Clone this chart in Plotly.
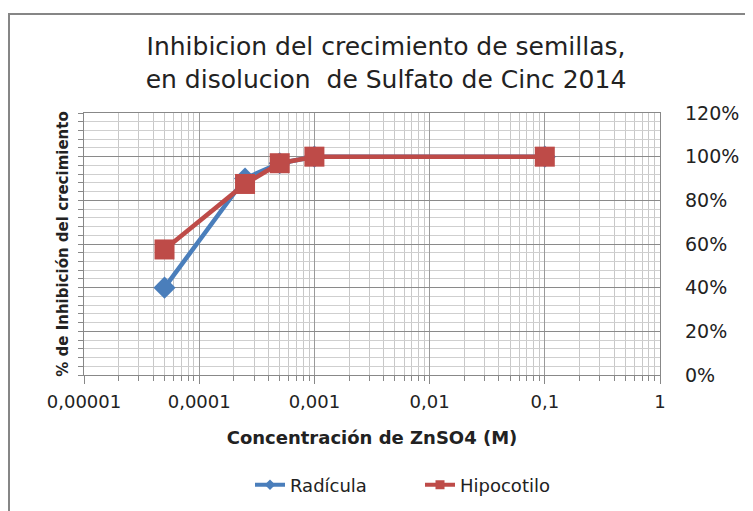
import plotly.graph_objects as go

# Data
concentracion = [0.00005, 0.00025, 0.0005, 0.001, 0.1]
radicula = [0.40, 0.90, 0.97, 1.00, 1.00]
hipocotilo = [0.575, 0.875, 0.97, 1.00, 1.00]

x_tickvals = [0.00001, 0.0001, 0.001, 0.01, 0.1, 1]
x_ticktext = ["0,00001", "0,0001", "0,001", "0,01", "0,1", "1"]
y_tickvals = [0, 0.2, 0.4, 0.6, 0.8, 1.0, 1.2]
y_ticktext = ["0%", "20%", "40%", "60%", "80%", "100%", "120%"]

FONT = "DejaVu Sans"
BLUE = "#4A7EBB"
RED = "#BE4B48"

# page offset compensation (body margin)
OFF = 8
L, T, PW, PH = 84 - OFF, 113 - OFF, 576, 262

fig = go.Figure()
fig.add_trace(go.Scatter(
    x=concentracion, y=radicula, name="Radícula", mode="lines+markers",
    line=dict(color=BLUE, width=4.5), showlegend=False,
    marker=dict(symbol="diamond", size=17, color=BLUE),
))
fig.add_trace(go.Scatter(
    x=concentracion, y=hipocotilo, name="Hipocotilo", mode="lines+markers",
    line=dict(color=RED, width=4.5), showlegend=False,
    marker=dict(symbol="square", size=20, color=RED),
))
# legend entries with small markers (as in the reference legend)
fig.add_trace(go.Scatter(
    x=[None], y=[None], name="Radícula", mode="lines+markers",
    line=dict(color=BLUE, width=4), marker=dict(symbol="diamond", size=8, color=BLUE),
))
fig.add_trace(go.Scatter(
    x=[None], y=[None], name="Hipocotilo", mode="lines+markers",
    line=dict(color=RED, width=4), marker=dict(symbol="square", size=9, color=RED),
))
# invisible trace to activate right axis labels
fig.add_trace(go.Scatter(x=[None], y=[None], yaxis="y2", showlegend=False, hoverinfo="skip"))

fig.update_layout(
    width=753, height=511,
    margin=dict(l=L, r=753 - L - PW, t=T, b=511 - T - PH),
    paper_bgcolor="white", plot_bgcolor="white",
    font=dict(family=FONT, color="#222", size=17),
    title=dict(
        text="Inhibicion del crecimiento de semillas,<br>en disolucion  de Sulfato de Cinc 2014",
        x=(386 - OFF) / 753, xanchor="center", xref="container",
        y=1 - (55 - OFF) / 511, yanchor="middle", yref="container",
        font=dict(family=FONT, size=25, color="#222"),
    ),
    xaxis=dict(
        type="log", range=[-5, 0], automargin=False,
        tickvals=x_tickvals, ticktext=x_ticktext,
        showgrid=True, gridcolor="#9a9a9a", gridwidth=1,
        ticks="outside", ticklen=8, tickcolor="#888",
        showline=True, linecolor="#888", linewidth=1, mirror=True,
        minor=dict(dtick="D1", showgrid=True, gridcolor="#c8c8c8",
                   ticks="outside", ticklen=5, tickcolor="#888"),
        title=dict(text="<b>Concentración de ZnSO4 (M)</b>", font=dict(size=18), standoff=20),
        tickfont=dict(size=18), ticklabelstandoff=2,
        zeroline=False,
    ),
    yaxis=dict(
        range=[0, 1.2], tickvals=y_tickvals, showticklabels=False, automargin=False,
        showgrid=True, gridcolor="#8a8a8a", gridwidth=1,
        ticks="outside", ticklen=5, tickcolor="#888",
        showline=True, linecolor="#888", linewidth=1, mirror=True,
        minor=dict(dtick=0.04, showgrid=True, gridcolor="#cfcfcf",
                   ticks="outside", ticklen=5, tickcolor="#888"),
        title=dict(text="<b>% de Inhibición del crecimiento</b>", font=dict(size=15), standoff=5),
        zeroline=False,
    ),
    yaxis2=dict(
        overlaying="y", side="right", range=[0, 1.2], automargin=False,
        tickvals=y_tickvals, ticktext=y_ticktext, showgrid=False,
        ticks="", ticklabelstandoff=24, tickfont=dict(size=19),
        zeroline=False, showline=False,
    ),
    legend=dict(
        orientation="h", x=(250 - 84) / PW, xanchor="left", y=-0.42, yanchor="middle",
        font=dict(size=18), entrywidth=125, entrywidthmode="pixels",
        bgcolor="rgba(0,0,0,0)",
    ),
    shapes=[dict(type="rect", xref="paper", yref="paper",
                 x0=(9 - 84) / PW, x1=2, y0=-2, y1=1 + (113 - 14) / PH,
                 line=dict(color="#868686", width=2), layer="below")],
)

fig.write_html("out.html")
